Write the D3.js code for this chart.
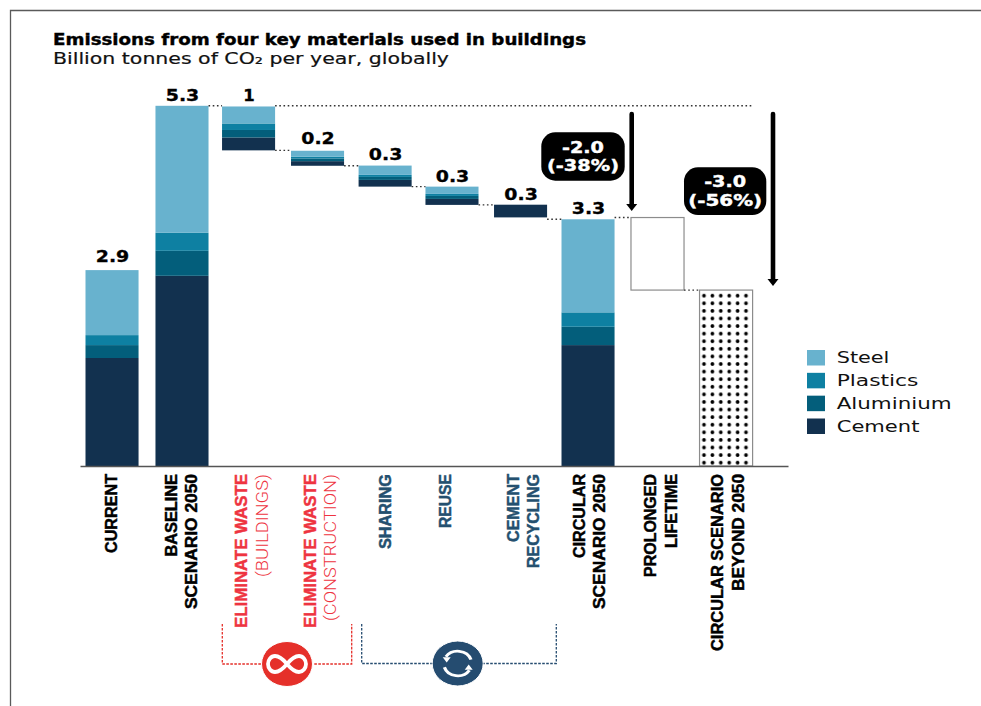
<!DOCTYPE html>
<html><head><meta charset="utf-8">
<style>html,body{margin:0;padding:0;background:#fff}svg{display:block}</style>
<script src="https://cdn.jsdelivr.net/npm/d3@7/dist/d3.min.js"></script>
</head><body><svg id="c" width="981" height="706"></svg>
<script>
// ---- data ----
const categories = ["CURRENT","BASELINE SCENARIO 2050","ELIMINATE WASTE (BUILDINGS)","ELIMINATE WASTE (CONSTRUCTION)","SHARING","REUSE","CEMENT RECYCLING","CIRCULAR SCENARIO 2050","PROLONGED LIFETIME","CIRCULAR SCENARIO BEYOND 2050"];
const steel     = [0.957,1.87,0.25,0.088,0.137,0.107,0,1.37,0,0];
const plastics  = [0.147,0.265,0.096,0.025,0.03,0.03,0,0.212,0,0];
const aluminium = [0.19,0.368,0.11,0.04,0.044,0.044,0,0.27,0,0];
const cement    = [1.59,2.80,0.19,0.068,0.099,0.088,0.187,1.78,0,0];
const base      = [0,0,4.647,4.42,4.113,3.844,3.66,0,2.59,0];
const outlined  = [0,0,0,0,0,0,0,0,1.068,2.59];
const valueLabels = ["2.9","5.3","1","0.2","0.3","0.3","0.3","3.3","",""];
const materials = ["Cement","Aluminium","Plastics","Steel"];
const legendOrder = ["Steel","Plastics","Aluminium","Cement"];

// ---- layout / style ----
const W=981,H=706;
const colors={Steel:"#68B2CE",Plastics:"#0E80A2",Aluminium:"#035E7B",Cement:"#12314F"};
const RED="#EE3340",BLUE="#24506F",CRED="#E5302A",CBLUE="#254C70";
const barNudge=[0,1.7,0,0.7,0,-1.4,-1.1,-1.9,-0.7,-0.4];
const labelGap=[8,5,5,7,5.5,5,4.5,5,0,0];
const axisLabels=[
 [{t:"CURRENT",x:111.7,l:79,c:"#000",w:1}],
 [{t:"BASELINE",x:171.7,l:82.5,c:"#000",w:1},{t:"SCENARIO 2050",x:191.7,l:135,c:"#000",w:1}],
 [{t:"ELIMINATE WASTE",x:241,l:154,c:RED,w:1},{t:"(BUILDINGS)",x:262,l:103,c:RED,w:0}],
 [{t:"ELIMINATE WASTE",x:310,l:154,c:RED,w:1},{t:"(CONSTRUCTION)",x:330.7,l:147,c:RED,w:0}],
 [{t:"SHARING",x:385,l:75,c:BLUE,w:1}],
 [{t:"REUSE",x:445,l:54,c:BLUE,w:1}],
 [{t:"CEMENT",x:513,l:68,c:BLUE,w:1},{t:"RECYCLING",x:533,l:94,c:BLUE,w:1}],
 [{t:"CIRCULAR",x:579.3,l:84,c:"#000",w:1},{t:"SCENARIO 2050",x:599,l:135,c:"#000",w:1}],
 [{t:"PROLONGED",x:650,l:103,c:"#000",w:1},{t:"LIFETIME",x:671,l:74,c:"#000",w:1}],
 [{t:"CIRCULAR SCENARIO",x:717.7,l:177,c:"#000",w:1},{t:"BEYOND 2050",x:738,l:117,c:"#000",w:1}]
];
const svg=d3.select("#c");
const defs=svg.append("defs");
const pat=defs.append("pattern").attr("id","dots").attr("patternUnits","userSpaceOnUse")
  .attr("x",699.8).attr("y",291.9).attr("width",8.4).attr("height",7.59);
pat.append("circle").attr("cx",4.2).attr("cy",3.8).attr("r",1.9).attr("fill","#000");

const band=d3.scaleBand().domain(d3.range(categories.length)).range([85.5,753]).paddingInner(0.223);
const X=i=>band(i)+barNudge[i], bw=band.bandwidth();
const y=d3.scaleLinear().domain([0,5.3]).range([466,106]);

// frame
svg.append("path").attr("d",`M10.5,${H}V10.5H${W}`).attr("fill","none").attr("stroke","#5a5a5a").attr("stroke-width",1.3);

function fit(sel,len){return sel.attr("textLength",len).attr("lengthAdjust","spacingAndGlyphs");}
function heavy(sel,c,w){return sel.attr("stroke",c).attr("stroke-width",w);}
const SANS="'DejaVu Sans',sans-serif";

// titles
heavy(fit(svg.append("text").attr("x",53).attr("y",44.5).attr("font-family",SANS).attr("font-weight",700).attr("font-size",16).attr("fill","#000").text("Emissions from four key materials used in buildings"),533),"#000",0.4);
heavy(fit(svg.append("text").attr("x",53).attr("y",63.5).attr("font-family",SANS).attr("font-size",16).attr("fill","#111").text("Billion tonnes of CO₂ per year, globally"),396),"#111",0.2);

// stacked bars
const rows=categories.map((c,i)=>({i,Steel:steel[i],Plastics:plastics[i],Aluminium:aluminium[i],Cement:cement[i]}));
const stack=d3.stack().keys(materials)(rows);
svg.append("g").selectAll("g").data(stack).join("g").attr("fill",s=>colors[s.key])
  .selectAll("rect").data(s=>s.filter(d=>d[1]>d[0])).join("rect")
  .attr("x",d=>X(d.data.i)).attr("width",bw)
  .attr("y",d=>y(base[d.data.i]+d[1])).attr("height",d=>y(d[0])-y(d[1]));

// outlined bars
const tops=categories.map((c,i)=>base[i]+steel[i]+plastics[i]+aluminium[i]+cement[i]+outlined[i]);
svg.append("g").selectAll("rect").data(d3.range(categories.length).filter(i=>outlined[i]>0)).join("rect")
  .attr("x",i=>X(i)).attr("width",bw)
  .attr("y",i=>y(base[i]+outlined[i])).attr("height",i=>y(base[i])-y(base[i]+outlined[i]))
  .attr("fill",i=>i===9?"url(#dots)":"#fff").attr("stroke","#8c8c8c").attr("stroke-width",1.2);

// connectors
const conn=[[1,2,tops[1]],[2,3,base[2]],[3,4,base[3]],[4,5,base[4]],[5,6,base[5]],[6,7,tops[7]],[7,8,tops[8]],[8,9,base[8]]];
const cg=svg.append("g").attr("stroke","#333").attr("stroke-width",1.4).attr("stroke-dasharray","1.6 2.6").attr("fill","none");
cg.selectAll("line").data(conn).join("line")
  .attr("x1",d=>X(d[0])+bw).attr("x2",d=>X(d[1])).attr("y1",d=>y(d[2])).attr("y2",d=>y(d[2]));
cg.append("line").attr("x1",X(2)+bw).attr("x2",752).attr("y1",y(tops[1])).attr("y2",y(tops[1]));

// axis baseline
const ax=d3.axisBottom(d3.scaleLinear().domain([0,1]).range([80,788])).tickValues([]).tickSize(0);
svg.append("g").attr("transform",`translate(0,${y(0)})`).call(ax).call(g=>g.select(".domain").attr("stroke","#555").attr("stroke-width",1.6));

// value labels
svg.append("g").attr("font-family",SANS).attr("font-weight",700).attr("font-size",16.5).attr("text-anchor","middle").attr("fill","#000").attr("stroke","#000").attr("stroke-width",0.35)
  .selectAll("text").data(d3.range(categories.length).filter(i=>valueLabels[i])).join("text")
  .attr("x",i=>X(i)+bw/2+0.5).attr("y",i=>y(tops[i])-labelGap[i]).text(i=>valueLabels[i])
  .each(function(i){ if(valueLabels[i].length>1) fit(d3.select(this),33.5); });

// category labels
const lg=svg.append("g").attr("font-family","'Liberation Sans',Arial,sans-serif").attr("font-size",16);
axisLabels.flat().forEach(d=>{
  const t=fit(lg.append("text").attr("transform",`translate(${d.x},474) rotate(-90)`).attr("text-anchor","end").attr("dy","0.36em")
    .attr("fill",d.c).attr("font-weight",d.w?700:300)
    .attr("font-family",d.w?null:"Roboto,sans-serif").text(d.t),d.l);
  if(d.w) heavy(t,d.c,0.45);
});

// brackets
function bracket(x0,x1,cx,c,cy,top){
  const g=svg.append("g");
  g.append("path").attr("d",`M${x0},${top}V${cy}H${x1}V${top}`).attr("fill","none").attr("stroke",c).attr("stroke-width",1.3).attr("stroke-dasharray","2.6 1.4");
  g.append("ellipse").attr("cx",cx).attr("cy",cy).attr("rx",25.5).attr("ry",22.5).attr("fill",c).attr("stroke","#fff").attr("stroke-width",1);
}
bracket(222.3,351.7,287,CRED,664,624);
bracket(361.7,556.3,457.7,CBLUE,663.5,624);
// infinity icon
svg.append("path").attr("transform","translate(287,664)")
  .attr("d","M0,0C-5,-6 -9,-8 -12,-8C-16,-8 -19,-4 -19,0C-19,4 -16,8 -12,8C-9,8 -5,6 0,0C5,-6 9,-8 12,-8C16,-8 19,-4 19,0C19,4 16,8 12,8C9,8 5,6 0,0Z")
  .attr("fill","none").attr("stroke","#fff").attr("stroke-width",3.8);
// recycle icon
const ri=svg.append("g").attr("transform","translate(457.7,663.5) scale(1,0.88)").attr("fill","none").attr("stroke","#fff").attr("stroke-width",3.2);
const arc=d3.arc().innerRadius(14).outerRadius(14);
ri.append("path").attr("d",arc({startAngle:-1.0,endAngle:1.25}));
ri.append("path").attr("d",arc({startAngle:2.15,endAngle:4.4}));
ri.append("path").attr("d","M-15,-7L-11,-1L-7,-7Z M15,7L11,1L7,7Z").attr("fill","#fff").attr("stroke","none");

// arrows
function arrow(x,y0,y1){
  svg.append("line").attr("x1",x).attr("x2",x).attr("y1",y0).attr("y2",y1-5).attr("stroke","#000").attr("stroke-width",4.6).attr("stroke-linecap","round");
  svg.append("path").attr("d",`M${x-5.5},${y1-7}H${x+5.5}L${x},${y1}Z`).attr("fill","#000");
}
arrow(631.7,114,211);
arrow(773,114,286);

// callouts
function callout(x0,x1,y0,y1,lines,b1,b2,l2){
  svg.append("rect").attr("x",x0).attr("y",y0).attr("width",x1-x0).attr("height",y1-y0).attr("rx",14).attr("fill","#000");
  const cx=(x0+x1)/2;
  const g=svg.append("g").attr("font-family",SANS).attr("font-weight",700).attr("font-size",15).attr("fill","#fff").attr("stroke","#fff").attr("stroke-width",0.4).attr("text-anchor","middle");
  fit(g.append("text").attr("x",cx).attr("y",b1).text(lines[0]),42);
  fit(g.append("text").attr("x",cx).attr("y",b2).text(lines[1]),l2);
}
callout(541.3,624.7,132.3,180.7,["-2.0","(-38%)"],152.5,171,72);
callout(684,766.3,167.3,215,["-3.0","(-56%)"],187,205.5,74);

// legend
const legLen=[52.7,81.7,115,82.7];
const leg=svg.append("g");
const legY=d3.scalePoint().domain(legendOrder).range([350,418.5]);
legendOrder.forEach((m,i)=>{
  leg.append("rect").attr("x",807).attr("y",legY(m)).attr("width",18).attr("height",15.5).attr("fill",colors[m]);
  fit(leg.append("text").attr("x",836.7).attr("y",legY(m)+13).attr("font-family",SANS).attr("font-size",16).attr("fill","#111").text(m),legLen[i]);
});
</script></body></html>
